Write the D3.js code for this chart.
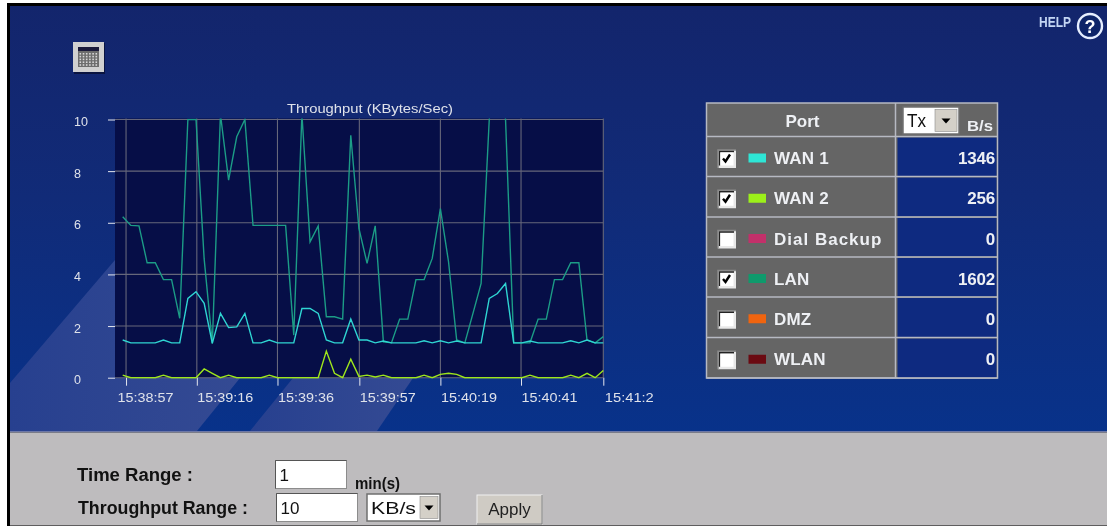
<!DOCTYPE html>
<html><head><meta charset="utf-8">
<script src="https://cdn.jsdelivr.net/npm/d3@7/dist/d3.min.js"></script>
<style>html,body{margin:0;padding:0;background:#fff;overflow:hidden}svg{display:block;filter:blur(0.4px)}text{font-family:"Liberation Sans",Arial,sans-serif}</style>
</head><body><svg id="c" width="1107" height="527"></svg>
<script>
const wan1 = [1.46,1.35,1.35,1.35,1.35,1.46,1.35,1.35,3.07,3.33,2.88,1.33,2.49,1.94,1.97,2.49,1.35,1.35,1.46,1.35,1.35,1.35,2.68,2.68,2.49,1.46,1.35,1.35,2.27,1.46,1.46,1.35,1.42,1.35,1.35,1.35,1.35,1.43,1.35,1.43,1.35,1.42,1.35,1.35,1.35,3.07,3.26,3.65,1.35,1.35,1.42,1.35,1.35,1.35,1.35,1.43,1.35,1.46,1.35,1.35];
const lan = [6.23,5.9,5.88,4.45,4.45,3.8,3.8,2.3,10,10,4.6,1.33,10.2,7.65,9.33,10,5.9,5.9,5.9,5.9,5.9,1.65,10.2,5.26,5.88,2.36,2.36,2.27,9.39,5.78,4.43,5.88,1.39,1.35,2.27,2.27,3.8,3.8,4.62,6.55,4.49,1.46,1.35,2.49,3.65,10,13,10,1.35,1.35,1.35,2.27,2.27,3.8,3.8,4.45,4.45,1.46,1.35,1.59];
const wan2 = [0.1,0,0,0,0,0.1,0,0,0,0,0.34,0.17,0,0.1,0,0,0,0,0.1,0,0,0,0,0,0,1.03,0.17,0,0.72,0.05,0.1,0.03,0.1,0,0,0,0,0.1,0,0.13,0.17,0.13,0,0,0,0,0,0,0,0,0.1,0,0,0,0,0.1,0,0.17,0,0.28];
const timeLabels = ["15:38:57","15:39:16","15:39:36","15:39:57","15:40:19","15:40:41","15:41:2"];
const timeTickSamples = [0.41,9.1,19,29.05,39,48.9,59];
const yTicks = [0,2,4,6,8,10];
const ports = ["WAN 1","WAN 2","Dial Backup","LAN","DMZ","WLAN"];
const portRates = ["1346","256","0","1602","0","0"];
const portChecked = [true,true,false,true,false,false];
const portColors = ["#2ee6d6","#9cf01a","#c2306a","#0f9a6c","#f0640f","#6b0a12"];
const rowEdges = [136.5,176.5,217,257,297,337.5,378];

const svg = d3.select("#c");
const defs = svg.append("defs");
const g = defs.append("linearGradient").attr("id","bg").attr("x1",0).attr("x2",0).attr("y1",0).attr("y2",1);
g.append("stop").attr("offset",0).attr("stop-color","#13256c");
g.append("stop").attr("offset",0.45).attr("stop-color","#112b78");
g.append("stop").attr("offset",1).attr("stop-color","#08328a");

svg.append("rect").attr("x",7).attr("y",3).attr("width",1100).attr("height",523).attr("fill","#000");
svg.append("rect").attr("x",10).attr("y",6).attr("width",1097).attr("height",426).attr("fill","url(#bg)");
const lg = defs.append("linearGradient").attr("id","lite").attr("x1",0).attr("x2",1).attr("y1",0).attr("y2",0);
lg.append("stop").attr("offset",0).attr("stop-color","#27408f");
lg.append("stop").attr("offset",1).attr("stop-color","#344a93");
const polys = [[[10,383],[115,260],[115,378],[240,378],[197,431],[10,431]],[[250,431],[293,378],[413,378],[377,431]]];
svg.selectAll("path.lite").data(polys).join("path").attr("class","lite").attr("d",d=>d3.line()(d)+"Z").attr("fill","url(#lite)");
svg.append("rect").attr("x",10).attr("y",431).attr("width",1097).attr("height",1.5).attr("fill","#6d78a8");
svg.append("rect").attr("x",10).attr("y",432.5).attr("width",1097).attr("height",93).attr("fill","#bebcbe");

// chart
const x = d3.scaleLinear().domain([0,59]).range([122.7,603.3]);
const y = d3.scaleLinear().domain([0,10]).range([377.7,119.5]);
const left = 115, right = 603.3, top0 = 118.5;
svg.append("rect").attr("x",left).attr("y",top0).attr("width",right-left).attr("height",y(0)-top0).attr("fill","#060e47");
defs.append("clipPath").attr("id","plot").append("rect").attr("x",left).attr("y",top0).attr("width",right-left+1).attr("height",y(0)-top0+1);

const gridC = "#66677a";
svg.append("g").selectAll("line").data(yTicks).join("line")
  .attr("x1",left).attr("x2",right).attr("y1",d=>y(d)).attr("y2",d=>y(d)).attr("stroke",gridC).attr("stroke-width",1.1);
svg.append("g").selectAll("line").data(timeTickSamples).join("line")
  .attr("x1",d=>x(d)).attr("x2",d=>x(d)).attr("y1",top0).attr("y2",y(0)).attr("stroke",gridC).attr("stroke-width",1.1);

const yAxis = d3.axisLeft(y).tickValues(yTicks).tickSize(7).tickPadding(0);
const ya = svg.append("g").attr("transform",`translate(${left},0)`).call(yAxis);
ya.select(".domain").remove();
ya.selectAll("line").attr("stroke","#e4e6ee");
ya.selectAll("text").attr("text-anchor","start").attr("x",-41).attr("fill","#dfe2ea").attr("font-size",12.5).attr("font-family","Liberation Sans").attr("dy","0.48em");

const xAxis = d3.axisBottom(x).tickValues(timeTickSamples).tickSize(8).tickPadding(8).tickFormat((d,i)=>timeLabels[i]);
const xa = svg.append("g").attr("transform",`translate(0,${y(0)})`).call(xAxis);
xa.select(".domain").remove();
xa.selectAll("line").attr("stroke","#e4e6ee");
xa.selectAll("text").attr("text-anchor","start").attr("fill","#dfe2ea").attr("font-size",12).attr("font-family","Liberation Sans").attr("textLength",(d,i)=>i==6?49:56).attr("lengthAdjust","spacingAndGlyphs")
  .attr("dx",(d,i)=>i==0?-9:0).attr("x",(d,i)=>i==6?1:0);

svg.append("text").attr("x",287).attr("y",113).attr("fill","#dfe2ea").attr("font-size",12).attr("textLength",166).attr("lengthAdjust","spacingAndGlyphs").text("Throughput (KBytes/Sec)");

const line = d3.line().x((d,i)=>x(i)).y(d=>y(d));
const lineG = svg.append("g").attr("clip-path","url(#plot)");
[[lan,"#1c9c86"],[wan1,"#2fd5d2"],[wan2,"#9ee61c"]].forEach(([s,c])=>{
  lineG.append("path").attr("d",line(s)).attr("fill","none").attr("stroke",c).attr("stroke-width",1.4);
});

// checkbox helper
function checkbox(sel,cx,cy,on){
  const s = sel.append("g").attr("transform",`translate(${cx-9},${cy-9})`);
  s.append("rect").attr("width",18).attr("height",18).attr("fill","#e8e8e8");
  s.append("path").attr("d","M0 18 L0 0 L18 0").attr("fill","none").attr("stroke","#8a8a8a").attr("stroke-width",1.5);
  s.append("path").attr("d","M1.5 15.5 L1.5 1.5 L16 1.5").attr("fill","none").attr("stroke","#222").attr("stroke-width",1.3);
  s.append("rect").attr("x",2.5).attr("y",2.5).attr("width",13).attr("height",13).attr("fill","#fff");
  if(on) s.append("path").attr("d","M5 8.5 L7.5 11.5 L12 4.5").attr("fill","none").attr("stroke","#000").attr("stroke-width",2.4);
}

// table
const tx0=706.5, tx1=997.5, tmid=895.5, tTop=103;
svg.append("rect").attr("x",tx0).attr("y",tTop).attr("width",tx1-tx0).attr("height",rowEdges[6]-tTop).attr("fill","#656565").attr("stroke","#b6b9c2").attr("stroke-width",1.5);
const rows = svg.append("g").selectAll("g").data(ports).join("g");
rows.append("rect").attr("x",tmid+2).attr("width",tx1-tmid-3).attr("y",(d,i)=>rowEdges[i]+1).attr("height",(d,i)=>rowEdges[i+1]-rowEdges[i]-1.5).attr("fill","#0e2a80");
rows.each(function(d,i){
  const cy=(rowEdges[i]+rowEdges[i+1])/2, r=d3.select(this);
  checkbox(r,727,cy+2.5,portChecked[i]);
  r.append("rect").attr("x",748.5).attr("y",cy-3).attr("width",17.5).attr("height",9).attr("fill",portColors[i]);
  r.append("text").attr("x",774).attr("y",cy+7.5).attr("fill","#eef0f4").attr("font-weight",700).attr("font-size",17).attr("letter-spacing",d.length>6?1:0.2).text(d);
  r.append("text").attr("x",995).attr("y",cy+7.5).attr("text-anchor","end").attr("fill","#eef0f4").attr("font-weight",700).attr("font-size",17).attr("letter-spacing",-0.2).text(portRates[i]);
});
svg.append("g").selectAll("line").data(rowEdges).join("line").attr("x1",tx0).attr("x2",tx1).attr("y1",d=>d).attr("y2",d=>d).attr("stroke","#b6b9c2").attr("stroke-width",1.5);
svg.append("line").attr("x1",tmid).attr("x2",tmid).attr("y1",tTop).attr("y2",rowEdges[6]).attr("stroke","#b6b9c2").attr("stroke-width",1.5);
svg.append("text").attr("x",802.5).attr("y",127).attr("text-anchor","middle").attr("fill","#eef0f4").attr("font-weight",700).attr("font-size",17).text("Port");
svg.append("text").attr("x",967).attr("y",130.5).attr("fill","#eef0f4").attr("font-weight",700).attr("font-size",15.5).attr("textLength",26).attr("lengthAdjust","spacingAndGlyphs").text("B/s");

// select widget
function select(sel,x0,y0,w,h,label,fs,btn,len){
  const s=sel.append("g");
  s.append("rect").attr("x",x0).attr("y",y0).attr("width",w).attr("height",h).attr("fill","#fff").attr("stroke","#6f6f6f").attr("stroke-width",1.5);
  s.append("rect").attr("x",x0+w-btn-2).attr("y",y0+2.5).attr("width",btn).attr("height",h-5).attr("fill","#d4d0c8").attr("stroke","#8a8a8a").attr("stroke-width",.6);
  const ax=x0+w-2-btn/2, ay=y0+h/2;
  s.append("path").attr("d",`M${ax-4.5} ${ay-2} L${ax+4.5} ${ay-2} L${ax} ${ay+3}Z`).attr("fill","#000");
  const t=s.append("text").attr("x",x0+4).attr("y",y0+h/2+fs*0.36).attr("fill","#111").attr("font-size",fs).attr("textLength",len).attr("lengthAdjust","spacingAndGlyphs").text(label);
}
select(svg,903,107,56,27,"Tx",19,22,19);
select(svg,367,494,73,27,"KB/s",17,18,45);

// help
svg.append("text").attr("x",1039).attr("y",27).attr("fill","#c4d6f4").attr("font-weight",700).attr("font-size",15).attr("textLength",32).attr("lengthAdjust","spacingAndGlyphs").text("HELP");
svg.append("circle").attr("cx",1090).attr("cy",26).attr("r",12).attr("fill","#0e2468").attr("stroke","#e6eeff").attr("stroke-width",2.4);
svg.append("text").attr("x",1090).attr("y",32.5).attr("text-anchor","middle").attr("fill","#fff").attr("font-weight",700).attr("font-size",18).text("?");

// calendar icon
const ic=svg.append("g").attr("transform","translate(73,42)");
ic.append("rect").attr("x",1).attr("y",1).attr("width",31).attr("height",31).attr("fill","#0a1440");
ic.append("rect").attr("width",31).attr("height",30).attr("fill","#d0d0d0");
ic.append("rect").attr("x",5).attr("y",5).attr("width",21).attr("height",20).attr("fill","#6d6d6d");
ic.append("rect").attr("x",5).attr("y",5).attr("width",21).attr("height",4).attr("fill","#1a1a3a");
ic.append("g").selectAll("rect").data(d3.range(30)).join("rect")
  .attr("x",d=>6.5+(d%6)*3.2).attr("y",d=>11+Math.floor(d/6)*2.8).attr("width",1.6).attr("height",1.6).attr("fill","#d8d8d8");

// form
function L(t,x0,y0,len,fs){return svg.append("text").attr("x",x0).attr("y",y0).attr("fill","#111").attr("font-weight",700).attr("font-size",fs||18).attr("textLength",len).attr("lengthAdjust","spacingAndGlyphs").text(t);}
L("Time Range :",77,481,116);
L("Throughput Range :",78,514,170);
L("min(s)",355,489,45,16);
function input(x0,y0,w,h,t){
  svg.append("rect").attr("x",x0).attr("y",y0).attr("width",w).attr("height",h).attr("fill","#fff").attr("stroke","#8c8c8c");
  svg.append("path").attr("d",`M${x0} ${y0+h} L${x0} ${y0} L${x0+w} ${y0}`).attr("fill","none").attr("stroke","#555");
  svg.append("text").attr("x",x0+4).attr("y",y0+h/2+6.5).attr("fill","#111").attr("font-size",17).text(t);
}
input(275.5,460.5,71,28,"1");
input(276.5,493.5,81,28,"10");
svg.append("rect").attr("x",477).attr("y",495).attr("width",65).attr("height",29).attr("fill","#cfcbc4").attr("stroke","#f0f0f0");
svg.append("path").attr("d","M542 495 L542 524 L477 524").attr("fill","none").attr("stroke","#777");
svg.append("text").attr("x",509.5).attr("y",515).attr("text-anchor","middle").attr("fill","#222").attr("font-size",17).text("Apply");
</script></body></html>
